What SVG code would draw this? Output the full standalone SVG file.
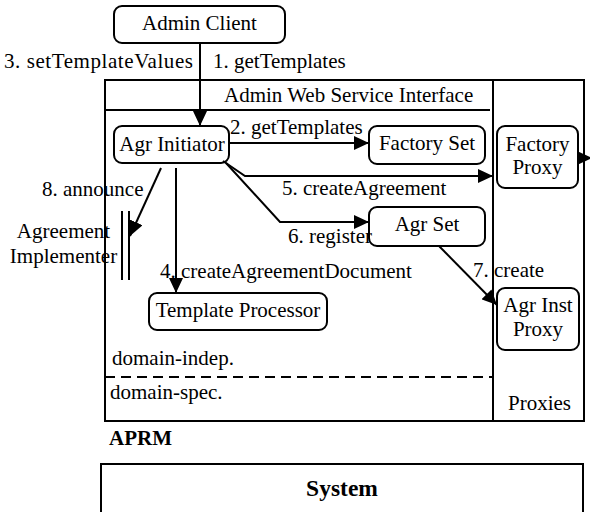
<svg xmlns="http://www.w3.org/2000/svg" width="590" height="512" viewBox="0 0 590 512">
  <style>
    text { font-size: 21px; fill: #000; }
    .bold { font-weight: bold; }
    .mid { text-anchor: middle; }
    .node { fill: #fff; stroke: #000; stroke-width: 2; }
    .frame { fill: none; stroke: #000; stroke-width: 2; }
    .edge { fill: none; stroke: #000; stroke-width: 2; }
    .dash { stroke-dasharray: 10 6; }
  </style>
  <defs>
    <marker id="arrow" markerUnits="userSpaceOnUse" markerWidth="16" markerHeight="14" refX="15" refY="7" orient="auto">
      <path d="M0,0 L15,7 L0,14 Z" fill="#000"/>
    </marker>
  </defs>

  <rect width="590" height="512" fill="#fff"/>

  <g font-family="Liberation Serif, DejaVu Serif, serif">
  <!-- APRM container with service interface header and proxies column -->
  <g id="aprm">
    <rect class="frame" x="105" y="80" width="479" height="341"/>
    <line class="frame" x1="105" y1="110" x2="490" y2="110"/>
    <line class="frame" x1="493" y1="80" x2="493" y2="421"/>
    <line class="frame dash" x1="105" y1="377" x2="493" y2="377"/>
    <text x="224" y="102">Admin Web Service Interface</text>
    <text x="112" y="365">domain-indep.</text>
    <text x="110" y="399">domain-spec.</text>
    <text x="508" y="410">Proxies</text>
    <text class="bold" x="109" y="445">APRM</text>
  </g>

  <g id="system">
    <rect class="frame" x="101" y="464" width="482" height="60"/>
    <text class="bold mid" x="342" y="496" style="font-size:23.5px">System</text>
  </g>

  <g id="admin-client">
    <rect class="node" x="114" y="6" width="171" height="37" rx="8"/>
    <text class="mid" x="199.5" y="30">Admin Client</text>
  </g>

  <g id="agr-initiator">
    <rect class="node" x="114" y="126" width="115" height="37" rx="8"/>
    <text class="mid" x="172" y="151">Agr Initiator</text>
  </g>

  <g id="factory-set">
    <rect class="node" x="369" y="126" width="116" height="38" rx="8"/>
    <text class="mid" x="427" y="150">Factory Set</text>
  </g>

  <g id="factory-proxy">
    <rect class="node" x="497" y="126" width="81" height="62" rx="8"/>
    <text class="mid" x="537.5" y="151">Factory</text>
    <text class="mid" x="537.5" y="174">Proxy</text>
  </g>

  <g id="agr-set">
    <rect class="node" x="369" y="207" width="116" height="39" rx="8"/>
    <text class="mid" x="427" y="231">Agr Set</text>
  </g>

  <g id="agr-inst-proxy">
    <rect class="node" x="497" y="288" width="82" height="62" rx="8"/>
    <text class="mid" x="538" y="312">Agr Inst</text>
    <text class="mid" x="538" y="336">Proxy</text>
  </g>

  <g id="template-processor">
    <rect class="node" x="149" y="293" width="178" height="37" rx="8"/>
    <text class="mid" x="238" y="317">Template Processor</text>
  </g>

  <g id="agreement-implementer">
    <line class="edge" x1="122" y1="211" x2="122" y2="280"/>
    <line class="edge" x1="129" y1="211" x2="129" y2="280"/>
    <text class="mid" x="63.5" y="238">Agreement</text>
    <text class="mid" x="63.5" y="263">Implementer</text>
  </g>

  <!-- message flows -->
  <g id="connectors">
    <line class="edge" x1="200" y1="43" x2="200" y2="126" marker-end="url(#arrow)"/>
    <text x="4" y="68" textLength="189" lengthAdjust="spacing">3. setTemplateValues</text>
    <text x="213" y="68">1. getTemplates</text>

    <line class="edge" x1="229" y1="143" x2="369" y2="143" marker-end="url(#arrow)"/>
    <text x="230" y="134">2. getTemplates</text>

    <polyline class="edge" points="223,161 245,176 493,176" marker-end="url(#arrow)"/>
    <text x="282" y="195">5. createAgreement</text>

    <polyline class="edge" points="226,163 280,222 369,222" marker-end="url(#arrow)"/>
    <text x="288" y="243">6. register</text>

    <line class="edge" x1="439" y1="246" x2="497" y2="305" marker-end="url(#arrow)"/>
    <text x="473" y="277">7. create</text>

    <line class="edge" x1="176" y1="168" x2="176" y2="293" marker-end="url(#arrow)"/>
    <text x="160" y="278">4. createAgreementDocument</text>

    <line class="edge" x1="161" y1="168" x2="130" y2="236" marker-end="url(#arrow)"/>
    <text x="42" y="196">8. announce</text>

    <line class="edge" x1="578" y1="158" x2="592" y2="158" marker-end="url(#arrow)"/>
  </g>
  </g>
</svg>
